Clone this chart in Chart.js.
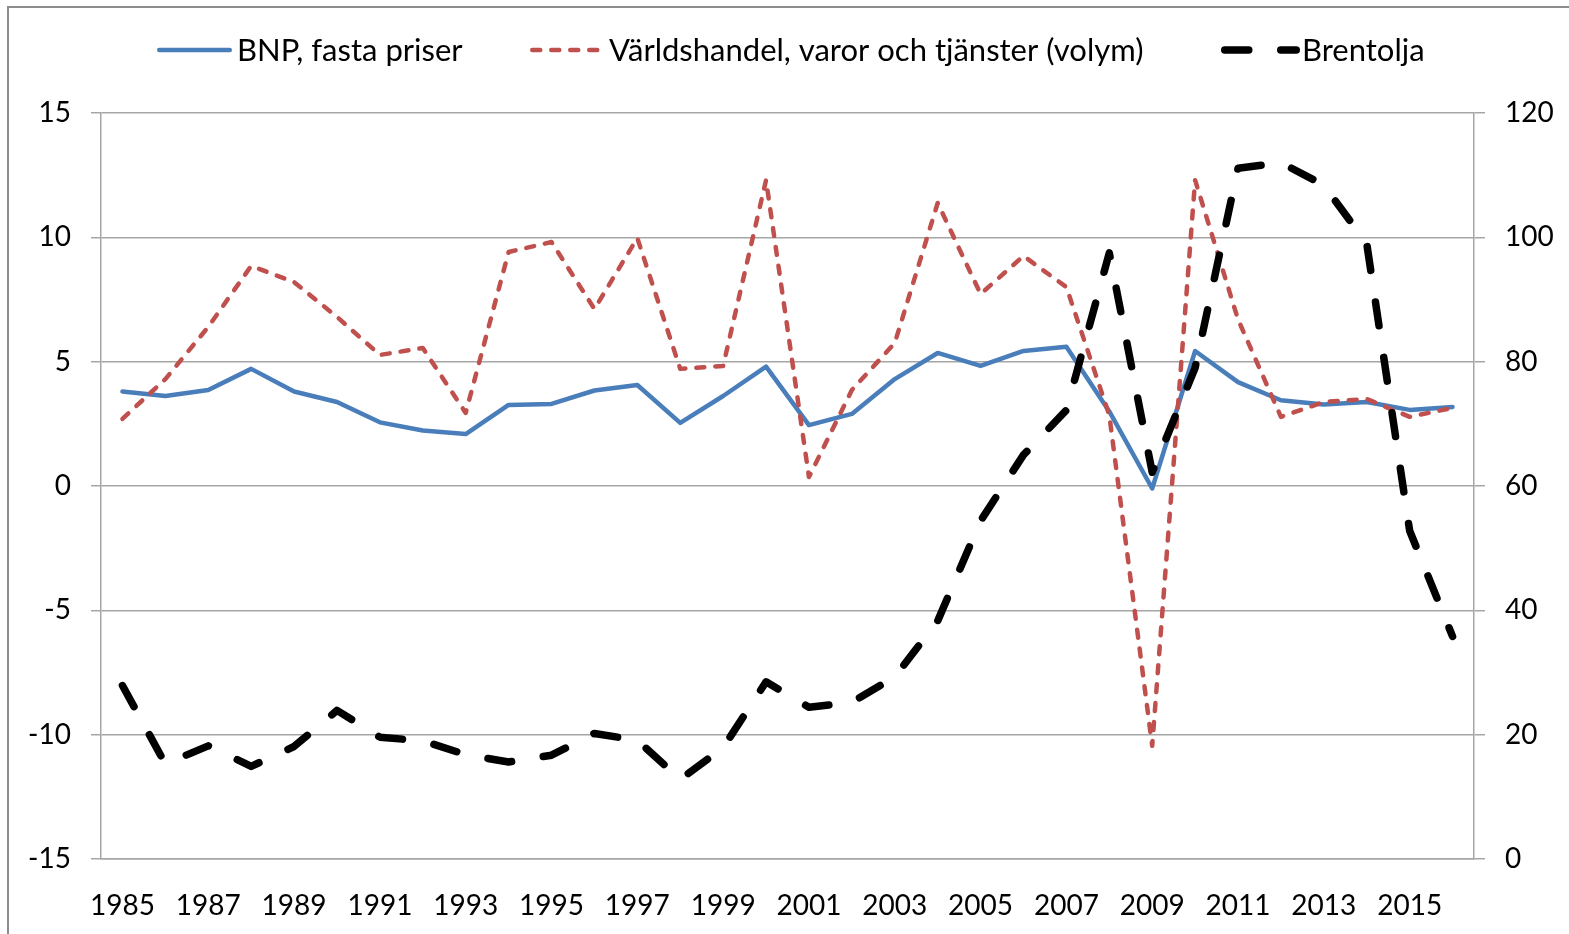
<!DOCTYPE html>
<html><head><meta charset="utf-8">
<script src="https://cdn.jsdelivr.net/npm/chart.js@4.4.1/dist/chart.umd.min.js"></script>
<style>
html,body{margin:0;padding:0;background:#fff;overflow:hidden}
#wrap{position:relative;width:1569px;height:934px}
#frame{position:absolute;left:7px;top:6px;width:1700px;height:1100px;border:2px solid #8c8c8c;box-sizing:border-box;pointer-events:none}
canvas{position:absolute;left:0;top:0}
</style></head><body>
<div id="wrap"><canvas id="c" width="1569" height="934"></canvas><div id="frame"></div></div>
<script>
const years = ['1985','1986','1987','1988','1989','1990','1991','1992','1993','1994','1995','1996','1997','1998','1999','2000','2001','2002','2003','2004','2005','2006','2007','2008','2009','2010','2011','2012','2013','2014','2015','2016'];
const shownYears = ['1985','1987','1989','1991','1993','1995','1997','1999','2001','2003','2005','2007','2009','2011','2013','2015'];
const bnp = [3.8,3.62,3.86,4.71,3.8,3.38,2.56,2.23,2.09,3.26,3.3,3.84,4.06,2.54,3.62,4.8,2.45,2.9,4.3,5.35,4.83,5.43,5.6,3.0,-0.1,5.43,4.18,3.45,3.28,3.38,3.06,3.18];
const varldshandel = [2.7,4.3,6.4,8.85,8.2,6.8,5.27,5.55,2.94,9.41,9.81,7.12,9.97,4.71,4.83,12.3,0.36,3.86,5.75,11.38,7.72,9.25,8.0,2.85,-10.45,12.3,6.7,2.78,3.38,3.5,2.78,3.14];
const brentolja = [27.9,15.3,18.2,14.9,18.1,23.9,19.6,19.0,16.8,15.6,16.7,20.2,19.1,12.8,17.9,28.5,24.4,25.2,29.3,38.3,54.4,65.0,72.2,97.5,62.2,79.0,111.1,112.0,108.4,99.0,52.8,35.8];
const leftTicks = {min:-15, max:15, step:5};
const rightTicks = {min:0, max:120, step:20};
const labels = ['BNP, fasta priser','Världshandel, varor och tjänster (volym)','Brentolja'];

const FONT = 'Lato';
const GRID = '#a6a6a6';

const legendPlugin = {
  id:'customLegend',
  afterDraw(chart){
    const ctx = chart.ctx;
    const ds = chart.data.datasets;
    const pos = [[157,232,237],[530,606,609],[1221,1300,1302]];
    const y = 50;
    ctx.save();
    ctx.font = '31px ' + FONT;
    ctx.textBaseline = 'middle';
    ctx.fillStyle = '#000';
    ds.forEach((d,i)=>{
      const p = pos[i];
      ctx.beginPath();
      ctx.strokeStyle = d.borderColor;
      ctx.lineWidth = d.borderWidth;
      ctx.lineCap = d.borderCapStyle || 'butt';
      ctx.setLineDash(d.borderDash || []);
      const cap = ctx.lineCap === 'round' ? d.borderWidth/2 : 0;
      ctx.moveTo(p[0]+cap, y);
      ctx.lineTo(p[1]-cap, y);
      ctx.stroke();
      ctx.setLineDash([]);
      ctx.fillText(d.label, p[2], y+1);
    });
    ctx.restore();
  }
};

new Chart(document.getElementById('c'), {
  type:'line',
  data:{
    labels: years,
    datasets:[
      {label:labels[0], data:bnp, yAxisID:'y', borderColor:'#4a7ebb', borderWidth:4.5, borderCapStyle:'round', borderJoinStyle:'round', pointRadius:0, tension:0, order:2},
      {label:labels[1], data:varldshandel, yAxisID:'y', borderColor:'#c0504d', borderWidth:4.5, borderDash:[8,11], borderCapStyle:'round', borderJoinStyle:'round', pointRadius:0, tension:0, order:1},
      {label:labels[2], data:brentolja, yAxisID:'y1', borderColor:'#000000', borderWidth:7.5, borderDash:[24,32], borderCapStyle:'round', borderJoinStyle:'round', pointRadius:0, tension:0, order:0}
    ]
  },
  options:{
    responsive:false,
    animation:false,
    layout:{padding:{top:113,left:0,right:0,bottom:0}},
    plugins:{legend:{display:false}, tooltip:{enabled:false}},
    scales:{
      x:{
        type:'category', offset:true,
        grid:{display:false, drawTicks:false},
        border:{display:true, color:GRID, width:1.5},
        ticks:{autoSkip:false, maxRotation:0, minRotation:0, padding:30, color:'#000', font:{family:FONT, size:28},
          callback:function(v,i){const l=this.getLabelForValue(v); return shownYears.includes(l)?l:'';}},
        afterFit(s){s.height = 75;}
      },
      y:{
        position:'left', min:leftTicks.min, max:leftTicks.max,
        grid:{color:GRID, lineWidth:1.5, tickLength:10},
        border:{display:true, color:GRID, width:1.5},
        ticks:{stepSize:leftTicks.step, padding:20, color:'#000', font:{family:FONT, size:28}},
        afterFit(s){s.width = 101;}
      },
      y1:{
        position:'right', min:rightTicks.min, max:rightTicks.max,
        grid:{drawOnChartArea:false, color:GRID, lineWidth:1.5, tickLength:11},
        border:{display:true, color:GRID, width:1.5},
        ticks:{stepSize:rightTicks.step, padding:20, color:'#000', font:{family:FONT, size:28}},
        afterFit(s){s.width = 95;}
      }
    }
  },
  plugins:[legendPlugin]
});
</script>
</body></html>
